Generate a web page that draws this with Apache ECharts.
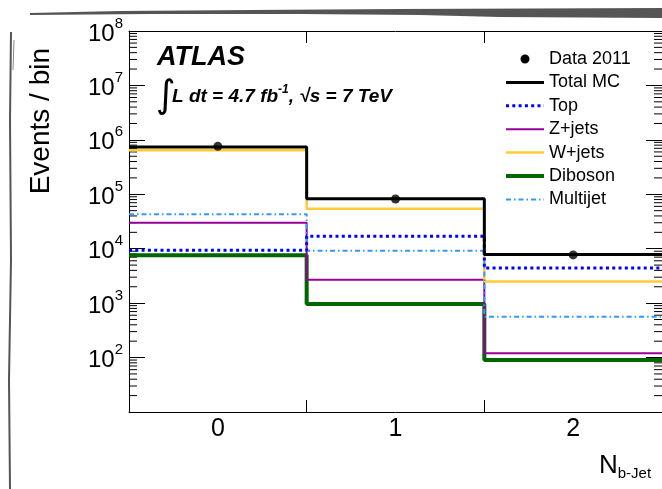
<!DOCTYPE html>
<html>
<head>
<meta charset="utf-8">
<script src="https://cdn.jsdelivr.net/npm/echarts@6/dist/echarts.min.js"></script>
<style>
html,body{margin:0;padding:0;background:#fff;}
#chart{width:662px;height:489px;}
</style>
</head>
<body>
<div id="chart"></div>
<script>
// ---- data ----
const categories = ['0', '1', '2'];
const dataVals   = [7.6e5, 8.2e4, 7.7e3];
const totalMC    = [7.4e5, 8.3e4, 7.8e3];
const topVals    = [9.4e3, 1.7e4, 4.4e3];
const zjets      = [3.0e4, 2.7e3, 120];
const wjets      = [6.45e5, 5.4e4, 2.5e3];
const diboson    = [7.6e3, 960, 90];
const multijet   = [4.3e4, 9.2e3, 565];
const yMin = 10, yMax = 1e8;

const FONT = '"Liberation Sans", Arial, Helvetica, sans-serif';

function stepData(vals) {
  const pts = vals.map((v, i) => [i - 0.5, v]);
  pts.push([vals.length - 0.5, vals[vals.length - 1]]);
  return pts;
}
// minor log ticks (axis decoration)
const minorTickVals = [];
for (let e = Math.log10(yMin); e < Math.log10(yMax); e++) {
  for (let k = 2; k <= 9; k++) minorTickVals.push(k * Math.pow(10, e));
}

function lineSeries(name, vals, color, width, type) {
  return {
    name: name, type: 'line', xAxisIndex: 1, yAxisIndex: 0,
    data: stepData(vals), step: 'end', symbol: 'none',
    lineStyle: {color: color, width: width, type: type || 'solid', cap: 'butt'},
    itemStyle: {color: color, opacity: 0},
    z: 3
  };
}

const chart = echarts.init(document.getElementById('chart'), null, {renderer: 'canvas'});
const dotIcon = 'path://M0,0L0.01,0M38,14L38.01,14M14.5,7a4.5,4.5 0 1,0 9,0a4.5,4.5 0 1,0 -9,0z';

const option = {
  animation: false,
  backgroundColor: '#fff',
  textStyle: {fontFamily: FONT},
  grid: {left: 129, top: 31, right: 0, bottom: 77},
  legend: {
    orient: 'vertical', left: 499, top: 45,
    itemWidth: 38, itemHeight: 14, itemGap: 5.4,
    lineStyle: {width: 'inherit'},
    textStyle: {fontSize: 18, color: '#000', fontFamily: FONT},
    data: [
      {name: 'Data 2011', icon: dotIcon, itemStyle: {color: '#000', opacity: 1}},
      'Total MC', 'Top', 'Z+jets', 'W+jets', 'Diboson', 'Multijet'
    ]
  },
  xAxis: [
    {
      type: 'category', data: categories, position: 'bottom', boundaryGap: true,
      axisLine: {onZero: false, lineStyle: {color: '#000', width: 1}},
      axisTick: {show: true, inside: true, length: 12, interval: 0, lineStyle: {color: '#000'}},
      axisLabel: {fontSize: 25, color: '#000', margin: 5, fontFamily: FONT},
      splitLine: {show: false}, z: 8
    },
    {
      type: 'value', min: -0.5, max: 2.5, show: false
    },
    {
      type: 'category', data: categories, position: 'top', boundaryGap: true,
      axisLine: {onZero: false, lineStyle: {color: '#000', width: 1}},
      axisTick: {show: true, inside: true, length: 12, interval: 0, lineStyle: {color: '#000'}},
      axisLabel: {show: false},
      splitLine: {show: false}, z: 8
    }
  ],
  yAxis: [
    {
      type: 'log', logBase: 10, min: yMin, max: yMax, splitNumber: 7, position: 'left',
      axisLine: {show: true, onZero: false, lineStyle: {color: '#000', width: 1}},
      axisTick: {show: true, inside: true, length: 16, lineStyle: {color: '#000'}},
      splitLine: {show: false},
      axisLabel: {
        margin: 6, color: '#000',
        formatter: function (v) {
          if (Math.abs(v - yMin) < 1e-6) return '';
          return '{b|10}{s|' + Math.round(Math.log10(v)) + '}';
        },
        rich: {
          b: {fontSize: 24, fontFamily: FONT, color: '#000', lineHeight: 30, verticalAlign: 'bottom'},
          s: {fontSize: 15, fontFamily: FONT, color: '#000', lineHeight: 30, verticalAlign: 'top'}
        }
      }
    },
    {
      type: 'log', logBase: 10, min: yMin, max: yMax, splitNumber: 7, position: 'right',
      axisLine: {show: true, onZero: false, lineStyle: {color: '#000', width: 1}},
      axisTick: {show: true, inside: true, length: 16, lineStyle: {color: '#000'}},
      axisLabel: {show: false},
      splitLine: {show: false}
    }
  ],
  series: [
    {
      name: 'minorTicks', type: 'custom', xAxisIndex: 1, yAxisIndex: 0, silent: true,
      data: minorTickVals.map(v => [0, v]), clip: false, z: 1,
      renderItem: function (params, api) {
        const v = api.value(1);
        const l = api.coord([-0.5, v]);
        const r = api.coord([2.5, v]);
        return {
          type: 'group',
          children: [
            {type: 'line', shape: {x1: l[0], y1: l[1], x2: l[0] + 8, y2: l[1]}, style: {stroke: '#000', lineWidth: 1}},
            {type: 'line', shape: {x1: r[0] - 8, y1: r[1], x2: r[0], y2: r[1]}, style: {stroke: '#000', lineWidth: 1}}
          ]
        };
      }
    },
    lineSeries('Diboson', diboson, '#006600', 4),
    lineSeries('Z+jets', zjets, '#990099', 2),
    lineSeries('W+jets', wjets, '#ffcc33', 2.5),
    lineSeries('Multijet', multijet, '#3399ff', 2, [5, 3, 1.5, 3]),
    lineSeries('Top', topVals, '#0000ff', 3, [3, 3.3]),
    lineSeries('Total MC', totalMC, '#000000', 3),
    {
      name: 'Data 2011', type: 'scatter', xAxisIndex: 1, yAxisIndex: 0,
      data: dataVals.map((v, i) => [i, v]),
      symbol: 'circle', symbolSize: 9, itemStyle: {color: '#000'}, z: 5
    }
  ],
  graphic: [
    // scanned-edge decoration
    {type: 'polygon', shape: {points: [[30,13],[120,11],[250,10],[400,9],[662,8],[662,18],[500,17],[420,15],[300,14],[150,14],[30,15]]},
      style: {fill: '#555'}, z: 10},
    {type: 'polyline', shape: {points: [[11,32],[10,120],[11,260],[9,380],[10,489]]}, style: {stroke: '#555', lineWidth: 2, fill: null}, z: 10},
    {type: 'polyline', shape: {points: [[14,40],[13,70]]}, style: {stroke: '#888', lineWidth: 1, fill: null}, z: 10},
    // y-axis title
    {type: 'text', left: 27, top: 48, rotation: Math.PI / 2, z: 10,
      style: {text: 'Events / bin', fontSize: 28, fontFamily: FONT, fill: '#000'}},
    // x-axis title
    {type: 'text', left: 599, top: 452, z: 10,
      style: {text: '{n|N}{s|b-Jet}', fill: '#000',
        rich: {n: {fontSize: 26, fontFamily: FONT, lineHeight: 28, verticalAlign: 'top'},
               s: {fontSize: 15, fontFamily: FONT, lineHeight: 28, verticalAlign: 'bottom', padding: [14, 0, 0, 0]}}}},
    // ATLAS label
    {type: 'text', left: 157, top: 44, z: 10,
      style: {text: 'ATLAS', fontSize: 27, fontWeight: 'bold', fontStyle: 'italic', fontFamily: FONT, fill: '#000'}},
    {type: 'text', left: 156, top: 78, z: 10,
      style: {text: '∫', fontSize: 38, fontFamily: '"DejaVu Sans", sans-serif', fill: '#000'}},
    {type: 'text', left: 172, top: 84, z: 10,
      style: {text: '{a|L dt = 4.7 fb}{e|-1}{a|, √s = 7 TeV}', fill: '#000',
        rich: {a: {fontSize: 19, fontWeight: 'bold', fontStyle: 'italic', fontFamily: FONT, lineHeight: 22, verticalAlign: 'bottom'},
               e: {fontSize: 12, fontWeight: 'bold', fontStyle: 'italic', fontFamily: FONT, lineHeight: 22, verticalAlign: 'top'}}}}
  ]
};
chart.setOption(option);
</script>
</body>
</html>
